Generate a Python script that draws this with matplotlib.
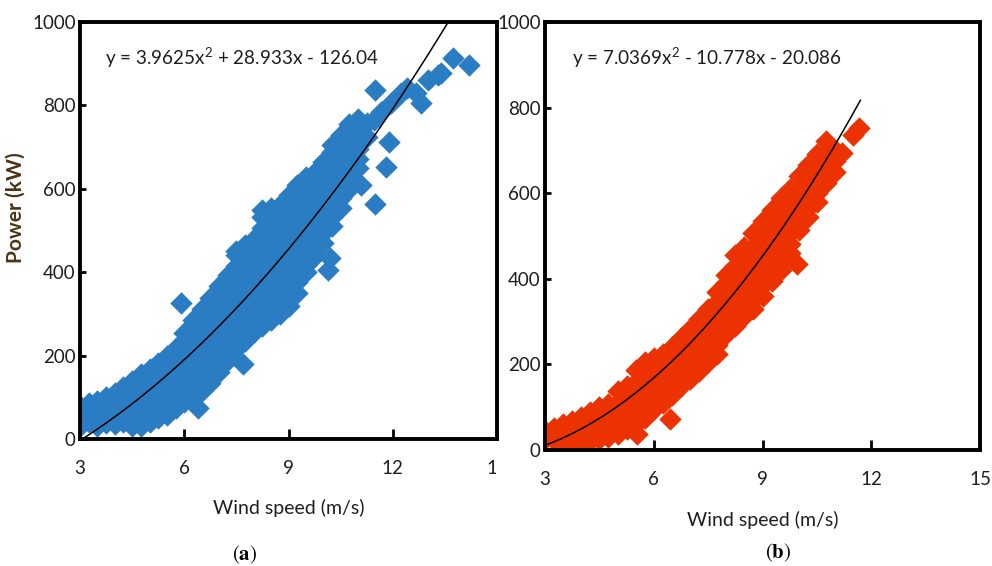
import matplotlib
matplotlib.use("Agg")
import matplotlib.pyplot as plt
import numpy as np
from matplotlib.transforms import Bbox, TransformedBbox

# ---------------- data ----------------
# panel (a): wind speed columns and the power values seen in each column
wind_a = [3.00, 3.25, 3.50, 3.75, 4.00, 4.25, 4.50, 4.75, 5.00, 5.25,
          5.50, 5.75, 6.00, 6.25, 6.50, 6.75, 7.00, 7.25, 7.50, 7.75,
          8.00, 8.25, 8.50, 8.75, 9.00, 9.25, 9.50, 9.75, 10.00, 10.25,
          10.50, 10.75, 11.00, 11.25]
power_a = [
    [31, 53, 79], [40, 65, 86], [32, 54, 78, 91], [38, 65, 91, 100],
    [37, 52, 78, 104, 110], [40, 65, 91, 117, 125], [30, 52, 78, 104, 130, 140],
    [30, 41, 65, 91, 117, 143, 155], [41, 56, 78, 104, 130, 156, 168],
    [50, 65, 91, 117, 143, 169, 182], [58, 78, 104, 130, 156, 182, 200],
    [75, 91, 117, 143, 169, 195, 218], [88, 104, 130, 156, 182, 208, 234, 255],
    [100, 117, 143, 169, 195, 221, 247, 273, 285],
    [116, 130, 156, 182, 208, 234, 260, 286, 312],
    [135, 147, 169, 195, 221, 247, 273, 299, 325, 338],
    [160, 182, 208, 234, 260, 286, 312, 338, 366],
    [190, 221, 247, 273, 299, 325, 351, 377, 394],
    [215, 234, 260, 286, 312, 338, 364, 390, 416, 442, 450],
    [235, 249, 273, 299, 325, 351, 377, 403, 429, 455, 465],
    [257, 286, 312, 338, 364, 390, 416, 442, 468, 480],
    [270, 299, 325, 351, 377, 403, 429, 455, 481, 507, 533, 548],
    [285, 312, 338, 364, 390, 416, 442, 468, 494, 520, 546, 555],
    [300, 325, 351, 377, 403, 429, 455, 481, 507, 533, 560],
    [320, 338, 364, 390, 416, 442, 468, 494, 520, 546, 572, 585],
    [350, 377, 403, 429, 455, 481, 507, 533, 559, 585, 610],
    [400, 418, 442, 468, 494, 520, 546, 572, 598, 628],
    [440, 458, 481, 507, 533, 559, 585, 611, 640],
    [470, 494, 520, 546, 572, 598, 624, 650, 665],
    [510, 533, 559, 585, 611, 637, 663, 689, 705],
    [555, 578, 602, 626, 650, 676, 702, 730],
    [600, 622, 646, 670, 694, 718, 742, 756],
    [650, 672, 696, 720, 745, 768],
    [725, 758],
]
# panel (a): scattered diamonds off the main cloud
wind_a_extra = [5.90, 6.40, 7.70, 10.15, 10.20, 11.08, 11.50, 11.50, 11.45,
                11.65, 11.80, 11.89, 11.94, 12.23, 12.42, 12.66, 12.80,
                13.00, 13.29, 13.38, 13.72, 14.20]
power_a_extra = [327, 75, 180, 405, 435, 608, 564, 837, 765,
                 784, 652, 712, 805, 829, 841, 829, 805,
                 861, 873, 877, 913, 897]

# panel (b)
wind_b = [3.00, 3.25, 3.50, 3.75, 4.00, 4.25, 4.50, 4.75, 5.00, 5.25,
          5.50, 5.75, 6.00, 6.25, 6.50, 6.75, 7.00, 7.25, 7.50, 7.75,
          8.00, 8.25, 8.50, 8.75, 9.00, 9.25, 9.50, 9.75, 10.00, 10.25,
          10.50, 10.75, 11.00]
power_b = [
    [25, 45], [24, 39, 52], [22, 42, 60], [22, 45, 68], [20, 42, 65, 78],
    [20, 39, 65, 88], [25, 52, 78, 100], [30, 55, 80, 108],
    [38, 60, 85, 110, 138], [48, 72, 97, 122, 150], [60, 85, 110, 135, 160, 186],
    [75, 98, 123, 148, 173, 198, 206], [95, 118, 143, 168, 193, 214],
    [110, 130, 155, 180, 205, 225], [128, 148, 173, 198, 222, 240],
    [150, 168, 193, 218, 243, 262], [165, 188, 213, 238, 262, 283],
    [185, 205, 230, 255, 280, 305], [205, 226, 251, 276, 301, 330],
    [225, 245, 270, 295, 320, 345, 370], [270, 290, 315, 340, 365, 390, 410],
    [290, 305, 330, 355, 380, 405, 430, 455], [312, 328, 353, 378, 403, 428, 453, 475],
    [330, 350, 375, 400, 425, 450, 475, 506], [360, 385, 410, 435, 460, 485, 510, 535],
    [395, 415, 440, 465, 490, 515, 540, 560], [420, 445, 470, 495, 520, 545, 570, 588],
    [460, 482, 507, 532, 557, 582, 610], [515, 535, 560, 585, 610, 640],
    [545, 565, 590, 615, 640, 665], [580, 600, 625, 650, 675, 692],
    [625, 645, 670, 695, 722], [650, 675, 700],
]
wind_b_extra = [5.55, 6.45, 9.95, 11.20, 11.50, 11.65]
power_b_extra = [37, 73, 435, 695, 735, 752]

# fitted trend lines (coefficients as printed on the chart)
fit_a = [3.9625, 28.933, -126.04]
fit_b = [7.0369, -10.778, -20.086]
fit_a_span = [3.0, 13.8]
fit_b_span = [3.0, 11.7]
eq_a = r"y = 3.9625x$^2$ + 28.933x - 126.04"
eq_b = r"y = 7.0369x$^2$ - 10.778x - 20.086"

x_ticks = [3, 6, 9, 12, 15]
y_ticks = [0, 200, 400, 600, 800, 1000]
x_label = "Wind speed (m/s)"
y_label = "Power (kW)"
captions = ["a", "b"]

# ---------------- styling ----------------
BLUE = "#2a7dc2"
RED = "#eb3200"
TXT = "#1e1e1e"
FONT = "Lato"
plt.rcParams["font.family"] = [FONT, "DejaVu Sans"]
plt.rcParams["mathtext.fontset"] = "custom"
plt.rcParams["mathtext.rm"] = FONT
plt.rcParams["mathtext.it"] = FONT
plt.rcParams["mathtext.bf"] = FONT + ":bold"


def flatten(xs, yss):
    fx, fy = [], []
    for x, ys in zip(xs, yss):
        for y in ys:
            fx.append(x)
            fy.append(y)
    return fx, fy


fig = plt.figure(figsize=(9.92, 5.66), dpi=100)
ax_a = fig.add_axes([80 / 992, 1 - 439 / 566, 417 / 992, 417 / 566])
ax_b = fig.add_axes([545 / 992, 1 - 450 / 566, 435 / 992, 428 / 566])

panels = [
    (ax_a, wind_a, power_a, wind_a_extra, power_a_extra, BLUE, fit_a, fit_a_span, eq_a),
    (ax_b, wind_b, power_b, wind_b_extra, power_b_extra, RED, fit_b, fit_b_span, eq_b),
]

for ax, wx, py, ex, ey, col, fit, span, eq in panels:
    fx, fy = flatten(wx, py)
    fx += ex
    fy += ey
    ax.scatter(fx, fy, marker="D", s=130, color=col, linewidths=0, zorder=2)
    xs = np.linspace(span[0], span[1], 200)
    ax.plot(xs, np.polyval(fit, xs), color="black", lw=1.1, zorder=3)
    ax.set_xlim(3, 15)
    ax.set_ylim(0, 1000)
    ax.set_xticks(x_ticks)
    ax.set_yticks(y_ticks)
    for s in ax.spines.values():
        s.set_linewidth(2.8)
        s.set_color("black")
    ax.tick_params(axis="x", direction="in", length=7, width=2, pad=15,
                   labelsize=13.5, labelcolor=TXT, top=False)
    ax.tick_params(axis="y", direction="in", length=4.5, width=2, pad=3,
                   labelsize=13.5, labelcolor=TXT, right=False)
    ax.text(0.061, 0.915, eq, transform=ax.transAxes, fontsize=13.6,
            color=TXT, ha="left", va="center")
    ax.set_xlabel(x_label, fontsize=14, color=TXT)
    ax.xaxis.set_label_coords(0.5, -0.143)

ax_a.set_ylabel(y_label, fontsize=15, fontweight="bold", color="#4d3318")
ax_a.yaxis.set_label_coords(-0.13, 0.556)

fig.text(245 / 992, 1 - 555 / 566, r"$(\mathbf{" + captions[0] + r"})$",
         ha="center", va="center", fontsize=15, math_fontfamily="stix")
fig.text(778 / 992, 1 - 553 / 566, r"$(\mathbf{" + captions[1] + r"})$",
         ha="center", va="center", fontsize=15, math_fontfamily="stix")

# the last tick label of panel (a) is cut by the panel border in the original
fig.canvas.draw()
clip = TransformedBbox(Bbox.from_extents(0, 0, 496 / 992, 1), fig.transFigure)
last = ax_a.xaxis.get_major_ticks()[-1]
last.label1.set_clip_box(clip)
last.label1.set_clip_on(True)

fig.savefig("out.png", dpi=100)
